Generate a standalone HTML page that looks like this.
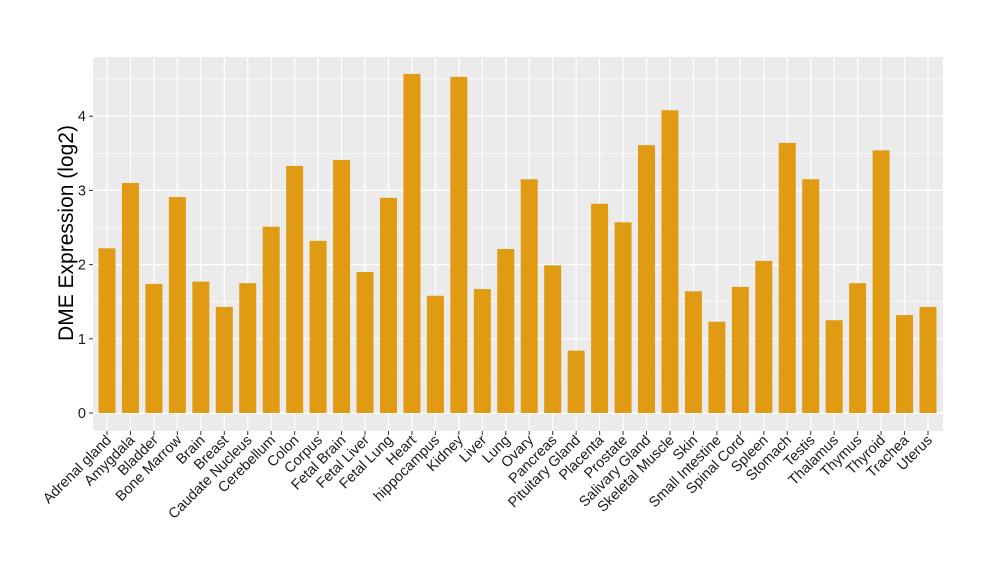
<!DOCTYPE html>
<html><head><meta charset="utf-8"><style>body{margin:0;background:#fff}svg{display:block}text{font-family:"Liberation Sans",sans-serif}</style></head><body>
<svg width="1000" height="580" xmlns="http://www.w3.org/2000/svg" id="s"></svg>
<script>
const names=["Adrenal gland","Amygdala","Bladder","Bone Marrow","Brain","Breast","Caudate Nucleus","Cerebellum","Colon","Corpus","Fetal Brain","Fetal Liver","Fetal Lung","Heart","hippocampus","Kidney","Liver","Lung","Ovary","Pancreas","Pituitary Gland","Placenta","Prostate","Salivary Gland","Skeletal Muscle","Skin","Small Intestine","Spinal Cord","Spleen","Stomach","Testis","Thalamus","Thymus","Thyroid","Trachea","Uterus"];
const v=[2.22,3.10,1.74,2.91,1.77,1.43,1.75,2.51,3.33,2.32,3.41,1.90,2.90,4.57,1.58,4.53,1.67,2.21,3.15,1.99,0.84,2.82,2.57,3.61,4.08,1.64,1.23,1.70,2.05,3.64,3.15,1.25,1.75,3.54,1.32,1.43];
const L=93,R=943,T=57,B=431,y0=413,k=74.2,x0=107,dx=(928-107)/35;
let h=`<rect x="${L}" y="${T}" width="${R-L}" height="${B-T}" fill="#ebebeb"/>`;
for(let i=0;i<=4.5;i+=0.5){const y=y0-i*k;h+=`<line x1="${L}" x2="${R}" y1="${y}" y2="${y}" stroke="#fff" stroke-width="${i%1?0.6:1.2}"/>`;}
names.forEach((n,i)=>{const x=x0+i*dx;h+=`<line x1="${x}" x2="${x}" y1="${T}" y2="${B}" stroke="#fff" stroke-width="1.2"/>`;});
names.forEach((n,i)=>{const x=x0+i*dx;h+=`<rect x="${x-8.5}" y="${y0-v[i]*k}" width="17" height="${v[i]*k}" fill="#e09b12"/>`;
h+=`<line x1="${x}" x2="${x}" y1="${B}" y2="${B+4}" stroke="#333"/>`;
h+=`<text transform="translate(${x+5},${B+10}) rotate(-45)" text-anchor="end" font-size="14.5" fill="#1a1a1a">${n}</text>`;});
for(let i=0;i<=4;i++){const y=y0-i*k;h+=`<line x1="${L-4}" x2="${L}" y1="${y}" y2="${y}" stroke="#333"/><text x="${L-7}" y="${y+5}" text-anchor="end" font-size="14.5" fill="#1a1a1a">${i}</text>`;}
h+=`<text transform="translate(73,233) rotate(-90)" text-anchor="middle" font-size="21" fill="#000">DME Expression (log2)</text>`;
document.getElementById('s').innerHTML=h;
</script>
</body></html>
